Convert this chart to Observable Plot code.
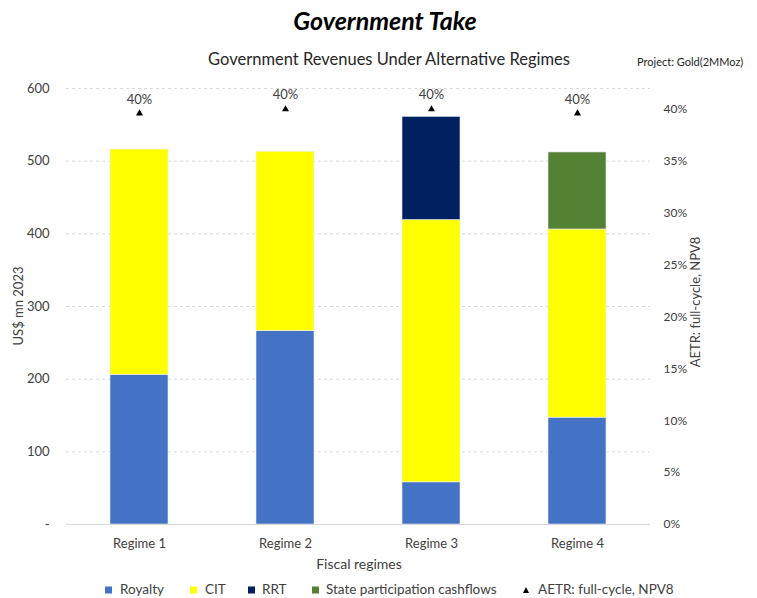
<!DOCTYPE html>
<html><head><meta charset="utf-8">
<script src="https://cdn.jsdelivr.net/npm/d3@7"></script>
<script src="https://cdn.jsdelivr.net/npm/@observablehq/plot@0.6"></script>
<style>
body{margin:0;background:#fff;font-family:Lato, "Open Sans", sans-serif;color:#404040;}
#wrap{position:relative;width:757px;height:598px;overflow:hidden;background:#fff;}
.abs{position:absolute;white-space:nowrap;line-height:1;}
.c{transform:translate(-50%,-50%);}
.l{transform:translate(0,-50%);}
#chart{position:absolute;left:0;top:60px;}
.sq{position:absolute;width:7px;height:7px;transform:translate(0,-50%);}
</style></head><body><div id="wrap">
<div id="chart"></div>
<div class="abs c" style="left:385px;top:20px;font-size:25px;font-weight:bold;font-style:italic;color:#000;">Government Take</div>
<div class="abs c" style="left:389px;top:59px;font-size:16.5px;color:#262626;">Government Revenues Under Alternative Regimes</div>
<div class="abs l" style="left:637px;top:61px;font-size:11px;color:#262626;">Project: Gold(2MMoz)</div>
<div class="abs c" style="left:18px;top:306px;font-size:13px;transform:translate(-50%,-50%) rotate(-90deg);">US$ mn 2023</div>
<div class="abs c" style="left:695px;top:302px;font-size:13px;transform:translate(-50%,-50%) rotate(-90deg);">AETR: full-cycle, NPV8</div>
<div class="abs c" style="left:359px;top:564px;font-size:14px;">Fiscal regimes</div>
<div id="legend"></div>
</div>
<script>
const regimes = ["Regime 1", "Regime 2", "Regime 3", "Regime 4"];
const seriesNames = ["Royalty", "CIT", "RRT", "State participation cashflows"];
const royalty = [206, 266, 58, 147];
const cit = [310, 247, 361, 259];
const rrt = [0, 0, 142, 0];
const stateParticipation = [0, 0, 0, 106];
const aetr = [0.396, 0.40, 0.40, 0.396];
const aetrName = "AETR: full-cycle, NPV8";
const seriesColors = ["#4472C4", "#FFFF00", "#002060", "#548235"];
const leftTicks = [0, 100, 200, 300, 400, 500, 600];
const rightTicks = [0, 0.05, 0.10, 0.15, 0.20, 0.25, 0.30, 0.35, 0.40];
const leftMax = 600, rightMax = 0.42;

const seriesValues = [royalty, cit, rrt, stateParticipation];
const rows = [];
regimes.forEach((r, i) => seriesNames.forEach((s, j) => rows.push({regime: r, series: s, value: seriesValues[j][i]})));
const aetrRows = regimes.map((r, i) => ({regime: r, aetr: aetr[i]}));
const toLeft = v => v * leftMax / rightMax;

const plot = Plot.plot({
  width: 757, height: 510,
  marginLeft: 66, marginRight: 107, marginTop: 28, marginBottom: 46,
  style: {fontFamily: "Lato, 'Open Sans', sans-serif", fontSize: "13px", color: "#404040", background: "transparent"},
  x: {domain: regimes, paddingInner: 0.6, paddingOuter: 0.3, label: null},
  y: {domain: [0, leftMax], label: null},
  color: {domain: seriesNames, range: seriesColors},
  marks: [
    Plot.gridY(leftTicks.filter(d => d > 0), {stroke: "#d9d9d9", strokeOpacity: 1, strokeDasharray: "3,3"}),
    Plot.barY(rows, {x: "regime", y: "value", fill: "series", order: seriesNames, stroke: "#e8edf7", strokeWidth: 0.6}),
    Plot.ruleY([0], {stroke: "#d9d9d9", strokeWidth: 1}),
    Plot.axisY(leftTicks, {anchor: "left", tickSize: 0, tickPadding: 17, tickFormat: d => d === 0 ? "-" : String(d), label: null, fontSize: 13}),
    Plot.axisY(rightTicks.map(toLeft), {anchor: "right", tickSize: 0, tickPadding: 13, tickFormat: d => Math.round(d * rightMax / leftMax * 100) + "%", label: null, fontSize: 12}),
    Plot.axisX({tickSize: 0, tickPadding: 14, label: null, fontSize: 13}),
    Plot.dot(aetrRows, {x: "regime", y: d => toLeft(d.aetr), symbol: "triangle", fill: "black", r: 2.6}),
    Plot.text(aetrRows, {x: "regime", y: d => toLeft(d.aetr), text: d => Math.round(d.aetr * 100) + "%", dy: -14, fontSize: 13, fill: "#404040"})
  ]
});
document.getElementById("chart").appendChild(plot);

// legend
const legend = document.getElementById("legend");
const sqX = [105, 190, 248, 312];
const txX = [120, 205, 262, 326];
const ly = 590;
seriesNames.forEach((s, i) => {
  const sq = document.createElement("div");
  sq.className = "sq";
  sq.style.left = sqX[i] + "px"; sq.style.top = ly + "px"; sq.style.background = seriesColors[i];
  legend.appendChild(sq);
  const t = document.createElement("div");
  t.className = "abs l"; t.style.left = txX[i] + "px"; t.style.top = ly + "px"; t.style.fontSize = "13.5px";
  t.textContent = s;
  legend.appendChild(t);
});
const tri = document.createElementNS("http://www.w3.org/2000/svg", "svg");
tri.setAttribute("width", 8); tri.setAttribute("height", 8);
tri.style.position = "absolute"; tri.style.left = "522px"; tri.style.top = (ly - 4) + "px";
tri.innerHTML = '<polygon points="4,1 7,7 1,7" fill="black"/>';
legend.appendChild(tri);
const at = document.createElement("div");
at.className = "abs l"; at.style.left = "538px"; at.style.top = ly + "px"; at.style.fontSize = "13.5px";
at.textContent = aetrName;
legend.appendChild(at);
</script>
</body></html>
